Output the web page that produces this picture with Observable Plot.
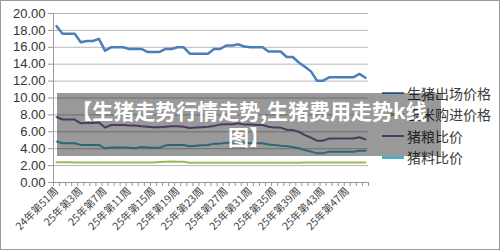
<!DOCTYPE html>
<html>
<head>
<meta charset="utf-8">
<script src="https://cdn.jsdelivr.net/npm/d3@7"></script>
<script src="https://cdn.jsdelivr.net/npm/@observablehq/plot@0.6"></script>
<style>
  html, body { margin: 0; padding: 0; background: #fff; }
  #wrap { position: relative; width: 500px; height: 250px; overflow: hidden; font-family: "Noto Sans CJK SC", "Liberation Sans", sans-serif; }
  #border { position: absolute; left: 0; top: 0; width: 500px; height: 250px; box-sizing: border-box; border: 1px solid #9a9a9a; pointer-events: none; }
  #legend { position: absolute; left: 382px; top: 82px; font-size: 14px; color: #3a3a3a; }
  #legend .item { display: flex; align-items: center; height: 21.5px; white-space: nowrap; }
  #legend .swatch { width: 22px; height: 2.5px; margin-right: 3px; }
  #banner { position: absolute; left: 57px; top: 93px; width: 384px; height: 63px; background: rgba(0,0,0,0.4);
            color: #fff; font-weight: bold; font-size: 21px; line-height: 26px; text-align: center; padding-top: 4px; box-sizing: border-box; }
</style>
</head>
<body>
<div id="wrap">
  <div id="chart"></div>
  <div id="legend"></div>
  <div id="banner"></div>
  <div id="border"></div>
</div>
<script>
// Weekly categories, 24年第51周 through 25年第50周
const weeks = ["24年第51周", "24年第52周"].concat(d3.range(1, 51).map(w => `25年第${w}周`));

// 生猪出场价格 (元/公斤)
const hogPrice = [18.5, 17.6, 17.6, 17.6, 16.6, 16.75, 16.75, 17.0, 15.6, 16.0, 16.0, 16.0, 15.8, 15.8, 15.8, 15.45, 15.45, 15.45, 15.8, 15.8, 16.0, 16.0, 15.25, 15.25, 15.25, 15.25, 15.8, 15.8, 16.2, 16.2, 16.35, 16.1, 16.0, 16.0, 16.0, 15.5, 15.5, 15.5, 14.85, 14.85, 14.2, 13.7, 13.15, 12.05, 12.05, 12.45, 12.45, 12.45, 12.45, 12.45, 12.85, 12.4];
// 玉米购进价格 (元/公斤)
const cornPrice = [2.4, 2.39, 2.39, 2.38, 2.38, 2.38, 2.38, 2.38, 2.38, 2.38, 2.38, 2.38, 2.38, 2.38, 2.38, 2.38, 2.38, 2.42, 2.47, 2.48, 2.47, 2.45, 2.33, 2.33, 2.33, 2.33, 2.33, 2.34, 2.35, 2.35, 2.35, 2.35, 2.35, 2.35, 2.35, 2.35, 2.35, 2.35, 2.35, 2.35, 2.35, 2.36, 2.36, 2.36, 2.36, 2.36, 2.36, 2.36, 2.36, 2.36, 2.37, 2.37];
// 猪粮比价
const hogGrainRatio = [7.75, 7.45, 7.45, 7.45, 7.0, 7.05, 7.05, 7.1, 6.5, 6.8, 6.8, 6.8, 6.75, 6.75, 6.65, 6.6, 6.55, 6.55, 6.6, 6.65, 6.65, 6.6, 6.45, 6.5, 6.55, 6.6, 6.7, 6.85, 6.9, 6.9, 7.0, 6.85, 6.85, 6.8, 6.8, 6.6, 6.5, 6.5, 6.25, 6.2, 6.0, 5.6, 5.3, 4.95, 4.95, 5.2, 5.2, 5.2, 5.2, 5.2, 5.35, 5.1];
// 猪料比价
const hogFeedRatio = [4.85, 4.65, 4.65, 4.65, 4.45, 4.45, 4.45, 4.45, 4.05, 4.15, 4.15, 4.15, 4.1, 4.05, 4.2, 4.15, 4.1, 4.1, 4.4, 4.45, 4.45, 4.45, 4.3, 4.35, 4.4, 4.45, 4.6, 4.6, 4.7, 4.7, 4.75, 4.7, 4.65, 4.65, 4.65, 4.5, 4.45, 4.35, 4.3, 4.2, 4.05, 3.85, 3.65, 3.45, 3.45, 3.65, 3.65, 3.65, 3.65, 3.65, 3.75, 3.75];

const seriesNames = ["生猪出场价格", "玉米购进价格", "猪粮比价", "猪料比价"];
const seriesValues = [hogPrice, cornPrice, hogGrainRatio, hogFeedRatio];
const seriesColors = ["#4a7ebb", "#9bbb59", "#7d5fa0", "#4bacc6"];
const seriesWidths = [2.5, 2, 2, 2];

const yTicks = d3.range(0, 21, 2);
const labelEvery = 4;
const titleLines = ["【生猪走势行情走势,生猪费用走势k线", "图】"];

// Long table built from the arrays above
const rows = seriesNames.flatMap((name, s) =>
  seriesValues[s].map((v, i) => ({series: name, i, value: v})));

const xDomain = [-0.5, weeks.length - 0.5];
const labelTicks = d3.range(0, weeks.length, labelEvery);
const boundaryTicks = d3.range(weeks.length + 1).map(i => i - 0.5);

const chart = Plot.plot({
  width: 500,
  height: 250,
  marginLeft: 53,
  marginRight: 132,
  marginTop: 13,
  marginBottom: 68,
  style: {fontFamily: "'Liberation Sans', 'Noto Sans CJK SC', sans-serif", background: "transparent", color: "#333"},
  x: {type: "linear", domain: xDomain},
  y: {domain: [0, 20]},
  marks: [
    Plot.gridY(yTicks, {stroke: "#b8b8b8", strokeOpacity: 1}),
    Plot.axisY(yTicks, {tickFormat: d3.format(".2f"), tickSize: 5, tickPadding: 3, fontSize: 13, stroke: "#999", fill: "#333", label: null}),
    Plot.axisX(boundaryTicks, {tickSize: 4, tickFormat: () => "", stroke: "#999", label: null}),
    Plot.axisX(labelTicks, {tickSize: 0, tickPadding: 7, tickRotate: -45, tickFormat: i => weeks[i], fontSize: 10.5, fill: "#444", label: null,
      fontFamily: "'Noto Sans CJK SC', sans-serif"}),
    Plot.ruleY([0], {stroke: "#999"}),
    Plot.ruleX([xDomain[0]], {stroke: "#999"}),
    ...seriesNames.map((name, s) =>
      Plot.line(rows.filter(d => d.series === name), {
        x: "i", y: "value", stroke: seriesColors[s], strokeWidth: seriesWidths[s], strokeLinejoin: "round"
      }))
  ]
});
document.getElementById("chart").append(chart);

// Legend on the right
const legend = document.getElementById("legend");
seriesNames.forEach((name, s) => {
  const item = document.createElement("div");
  item.className = "item";
  const sw = document.createElement("span");
  sw.className = "swatch";
  sw.style.background = seriesColors[s];
  const tx = document.createElement("span");
  tx.textContent = name;
  item.append(sw, tx);
  legend.append(item);
});

// Title banner
const banner = document.getElementById("banner");
titleLines.forEach(line => {
  const d = document.createElement("div");
  d.textContent = line;
  banner.append(d);
});
</script>
</body>
</html>
